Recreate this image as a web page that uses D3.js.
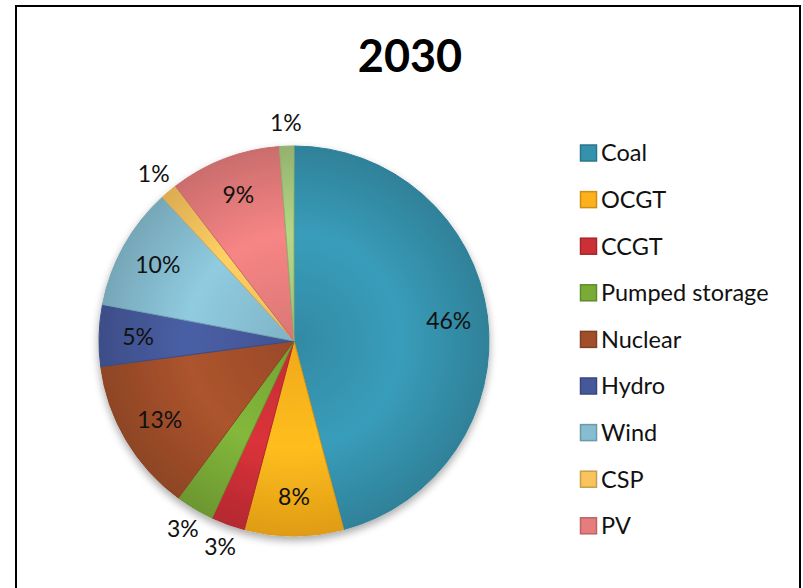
<!DOCTYPE html>
<html lang="en">
<head>
    <meta charset="UTF-8">
    <title>2030</title>
    <script src="https://d3js.org/d3.v7.min.js"></script>
    <style>
        body { margin: 0; background: white; }
        svg { display: block; font-family: Lato, "Open Sans", sans-serif; }
        .title { font-size: 45px; font-weight: bold; }
        .pct { font-size: 23px; fill: #111; }
        .legend-label { font-size: 23.5px; fill: #111; }
    </style>
</head>
<body>
    <svg width="803" height="588"></svg>
    <script>
        // data (share of total, %)
        var categories = ["Coal", "OCGT", "CCGT", "Pumped storage", "Nuclear", "Hydro", "Wind", "CSP", "PV", "Other"];
        var shares = [45.9, 8.2, 2.8, 3.2, 12.8, 5.1, 10.2, 1.4, 9.2, 1.2];
        var colors = ["#3592ad", "#fdb11a", "#cc2f36", "#7aab37", "#a14e2a", "#45589a", "#86bdd1", "#f9c35d", "#e67c7c", "#a8c97e"];
        // only the first nine entries fit in the legend box
        var legendCount = 9;

        var svg = d3.select("svg"), width = 803, height = 588;
        var cx = 294, cy = 341, radius = 195;

        // frame
        svg.append("rect")
            .attr("x", 16).attr("y", 6)
            .attr("width", 784).attr("height", 600)
            .attr("fill", "white")
            .attr("stroke", "black")
            .attr("stroke-width", 2);

        svg.append("text")
            .attr("class", "title")
            .attr("x", 410)
            .attr("y", 72)
            .attr("text-anchor", "middle")
            .text("2030");

        var defs = svg.append("defs");
        var shadow = defs.append("filter").attr("id", "shadow")
            .attr("x", "-20%").attr("y", "-20%").attr("width", "140%").attr("height", "140%");
        shadow.append("feGaussianBlur").attr("in", "SourceAlpha").attr("stdDeviation", 4);
        shadow.append("feOffset").attr("dx", 0).attr("dy", 4).attr("result", "off");
        shadow.append("feComponentTransfer").append("feFuncA").attr("type", "linear").attr("slope", 0.35);
        var merge = shadow.append("feMerge");
        merge.append("feMergeNode");
        merge.append("feMergeNode").attr("in", "SourceGraphic");

        colors.forEach(function(c, i) {
            var grad = defs.append("radialGradient")
                .attr("id", "grad" + i)
                .attr("gradientUnits", "userSpaceOnUse")
                .attr("cx", 0).attr("cy", 0).attr("r", radius);
            grad.append("stop").attr("offset", "0%").attr("stop-color", d3.color(c).darker(0.15));
            grad.append("stop").attr("offset", "55%").attr("stop-color", d3.color(c).brighter(0.2));
            grad.append("stop").attr("offset", "100%").attr("stop-color", d3.color(c).darker(0.35));
        });

        var data = categories.map(function(name, i) {
            return { name: name, value: shares[i], idx: i };
        });

        var pie = d3.pie().sort(null).value(function(d) { return d.value; });
        var arcs = pie(data);
        var arc = d3.arc().innerRadius(0).outerRadius(radius);
        var inArc = d3.arc().innerRadius(radius * 0.8).outerRadius(radius * 0.8);
        var outArc = d3.arc().innerRadius(radius * 1.12).outerRadius(radius * 1.12);

        var g = svg.append("g").attr("transform", "translate(" + cx + "," + cy + ")");
        var slices = g.append("g").attr("filter", "url(#shadow)");

        slices.selectAll("path")
            .data(arcs)
            .enter().append("path")
            .attr("d", arc)
            .attr("fill", function(d) { return "url(#grad" + d.data.idx + ")"; })
            .attr("stroke", function(d) { return d3.color(colors[d.data.idx]).darker(0.4); })
            .attr("stroke-width", 1);

        g.selectAll(".pct")
            .data(arcs)
            .enter().append("text")
            .attr("class", "pct")
            .attr("transform", function(d) {
                var small = d.data.value < 4;
                var p = small ? outArc.centroid(d) : inArc.centroid(d);
                return "translate(" + p[0] + "," + p[1] + ")";
            })
            .attr("dy", "0.35em")
            .attr("text-anchor", "middle")
            .text(function(d) { return Math.round(d.data.value) + "%"; });

        var legend = svg.append("g").attr("transform", "translate(580, 153)");
        var items = legend.selectAll("g")
            .data(data.slice(0, legendCount))
            .enter().append("g")
            .attr("transform", function(d, i) { return "translate(0," + (i * 46.6) + ")"; });

        items.append("rect")
            .attr("x", 0.5).attr("y", -8)
            .attr("width", 16).attr("height", 16)
            .attr("fill", function(d) { return colors[d.idx]; })
            .attr("stroke", function(d) { return d3.color(colors[d.idx]).darker(0.6); })
            .attr("stroke-width", 1.5);

        items.append("text")
            .attr("class", "legend-label")
            .attr("x", 21)
            .attr("dy", "0.36em")
            .text(function(d) { return d.name; });
    </script>
</body>
</html>
